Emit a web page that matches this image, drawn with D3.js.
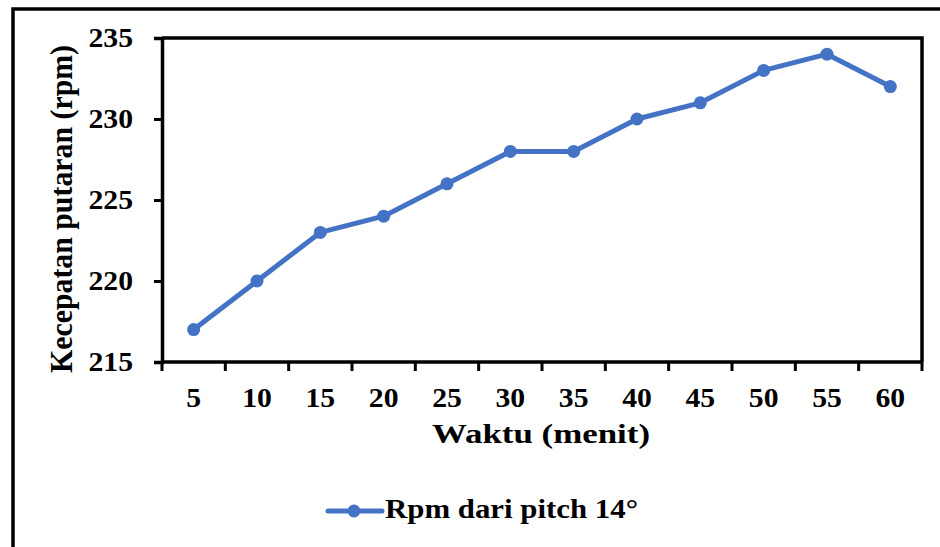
<!DOCTYPE html>
<html>
<head>
<meta charset="utf-8">
<script src="https://cdn.jsdelivr.net/npm/d3@7"></script>
<style>
  html, body { margin: 0; padding: 0; background: #fff; }
  svg text { font-family: "Liberation Serif", "Times New Roman", serif; font-weight: bold; fill: #000; }
</style>
</head>
<body>
<svg id="chart" width="940" height="547"></svg>
<script>
// Rotational speed measured every 5 minutes
const minutes = ["5", "10", "15", "20", "25", "30", "35", "40", "45", "50", "55", "60"];
const rpm = [217, 220, 223, 224, 226, 228, 228, 230, 231, 233, 234, 232];
const yTicks = [215, 220, 225, 230, 235];
const seriesName = "Rpm dari pitch 14°";
const xTitle = "Waktu (menit)";
const yTitle = "Kecepatan putaran (rpm)";

const svg = d3.select("#chart");
const W = 940, H = 547;
const plot = { left: 162, top: 38, right: 922, bottom: 362 };
const lineColor = "#4472C4";
const fontSize = 27;

// Widen text horizontally by a factor of its natural length
function widen(sel, factor) {
  sel.each(function () {
    const len = this.getComputedTextLength();
    d3.select(this).attr("textLength", len * factor).attr("lengthAdjust", "spacingAndGlyphs");
  });
}
function fitTo(sel, len) {
  sel.attr("textLength", len).attr("lengthAdjust", "spacingAndGlyphs");
}

// Outer frame
svg.append("rect")
  .attr("x", 13).attr("y", 9)
  .attr("width", W + 20).attr("height", H + 20)
  .attr("fill", "none").attr("stroke", "#000").attr("stroke-width", 3.5);

const x = d3.scaleBand().domain(minutes).range([plot.left, plot.right]).padding(0);
const y = d3.scaleLinear().domain([215, 235]).range([plot.bottom, plot.top]);

// Plot border (top and right sides)
svg.append("path")
  .attr("d", `M${plot.left},${plot.top}H${plot.right}V${plot.bottom}`)
  .attr("fill", "none").attr("stroke", "#000").attr("stroke-width", 3.5);

// Y axis
const yAxis = svg.append("g")
  .attr("transform", `translate(${plot.left},0)`)
  .call(d3.axisLeft(y).tickValues(yTicks).tickSize(8).tickPadding(21).tickFormat(d3.format("d")));
yAxis.select(".domain").attr("stroke-width", 3.5);
yAxis.selectAll(".tick line").attr("stroke-width", 3);
yAxis.selectAll(".tick text").attr("font-size", fontSize).attr("dy", "0.32em").attr("fill", "#000");
widen(yAxis.selectAll(".tick text"), 1.1);

// X axis: ticks on category boundaries, labels centred in each band
const boundaries = d3.range(minutes.length + 1).map(i => plot.left + i * x.bandwidth());
const xg = svg.append("g");
xg.append("line")
  .attr("x1", plot.left).attr("x2", plot.right)
  .attr("y1", plot.bottom).attr("y2", plot.bottom)
  .attr("stroke", "#000").attr("stroke-width", 3.5);
xg.selectAll(".xtick").data(boundaries).join("line")
  .attr("x1", d => d).attr("x2", d => d)
  .attr("y1", plot.bottom).attr("y2", plot.bottom + 9)
  .attr("stroke", "#000").attr("stroke-width", 3);
const xLabels = xg.selectAll(".xlabel").data(minutes).join("text")
  .attr("x", d => x(d) + x.bandwidth() / 2)
  .attr("y", 407)
  .attr("text-anchor", "middle")
  .attr("font-size", fontSize)
  .text(d => d);
widen(xLabels, 1.1);

// Axis titles
svg.append("text")
  .attr("x", 541).attr("y", 443)
  .attr("text-anchor", "middle").attr("font-size", fontSize)
  .text(xTitle)
  .call(fitTo, 218);
svg.append("text")
  .attr("transform", `translate(72,209) rotate(-90) scale(1,1.2)`)
  .attr("text-anchor", "middle").attr("font-size", fontSize)
  .text(yTitle)
  .call(fitTo, 328);

// Series line and markers
const cx = d => x(d) + x.bandwidth() / 2;
const data = minutes.map((m, i) => ({ m, v: rpm[i] }));
svg.append("path")
  .datum(data)
  .attr("d", d3.line().x(d => cx(d.m)).y(d => y(d.v)))
  .attr("fill", "none").attr("stroke", lineColor).attr("stroke-width", 5)
  .attr("stroke-linejoin", "round").attr("stroke-linecap", "round");
svg.selectAll(".pt").data(data).join("circle")
  .attr("cx", d => cx(d.m)).attr("cy", d => y(d.v)).attr("r", 6.5)
  .attr("fill", lineColor);

// Legend
const lg = svg.append("g").attr("transform", "translate(328,511)");
lg.append("line").attr("x1", 0).attr("x2", 54).attr("y1", 0).attr("y2", 0)
  .attr("stroke", lineColor).attr("stroke-width", 5).attr("stroke-linecap", "round");
lg.append("circle").attr("cx", 26).attr("cy", 0).attr("r", 6.5).attr("fill", lineColor);
lg.append("text").attr("x", 57).attr("y", 7).attr("font-size", fontSize)
  .text(seriesName)
  .call(fitTo, 253);
</script>
</body>
</html>
